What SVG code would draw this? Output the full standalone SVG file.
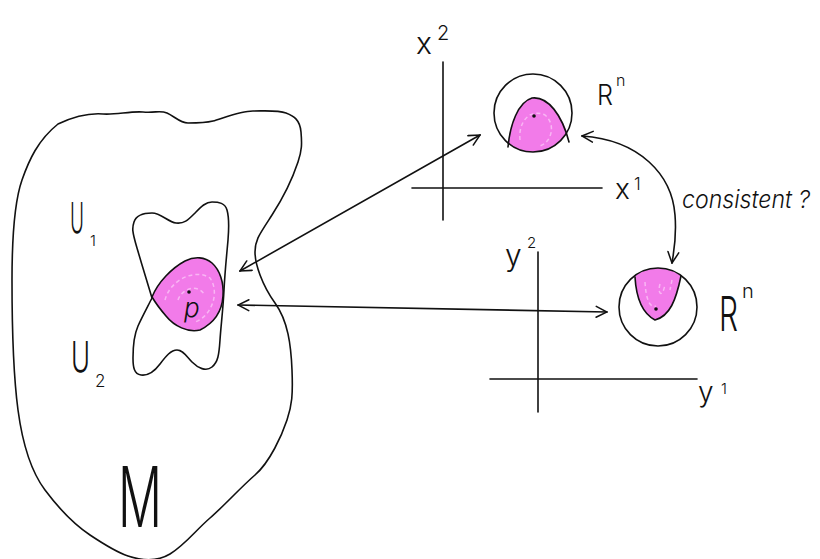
<svg xmlns="http://www.w3.org/2000/svg" width="820" height="559" viewBox="0 0 820 559">
<style>
.ln{fill:none;stroke:#111;stroke-width:1.6;stroke-linecap:round;stroke-linejoin:round}
.pk{fill:#f27be9}
.sw{fill:none;stroke:#f9b6f4;stroke-width:1.5;stroke-dasharray:4 3}
.t{font-family:"Inter","Lato","Open Sans","Liberation Sans",sans-serif;font-weight:300;fill:#111}
.ti{font-family:"Inter","Open Sans","Liberation Sans",sans-serif;font-style:italic;font-weight:300;fill:#111}
</style>
<defs>
<marker id="ah" viewBox="0 0 12 12" refX="11" refY="6" markerWidth="13" markerHeight="13" markerUnits="userSpaceOnUse" orient="auto-start-reverse">
<path d="M1,1 L11,6 L1,11" fill="none" stroke="#111" stroke-width="1.4" stroke-linecap="round"/>
</marker>
<clipPath id="c1"><circle cx="533" cy="113" r="39"/></clipPath>
<clipPath id="c2"><circle cx="658" cy="307" r="39"/></clipPath>
</defs>
<rect width="820" height="559" fill="#fff"/>

<g id="manifold-M">
<path class="ln" d="M58,124 C75,116 90,113 103,114 S130,111 143,112 S160,110 167,113 S180,123 188,123 S205,123 213,121 S240,111 253,111 S278,110 286,113 S300,120 301,132 S302,150 298,162 S285,195 272,215 S255,240 255,252 S262,285 275,303 S291,345 292,370 S292,405 287,420 S270,462 255,475 S225,505 210,518 S185,545 170,554 S140,560 128,556 S105,545 90,535 S60,510 45,490 S22,440 18,410 S12,330 12,280 S15,200 22,180 S38,140 58,124 Z"/>
<text class="t" x="118" y="527" font-size="84" textLength="44" lengthAdjust="spacingAndGlyphs">M</text>
</g>

<g id="charts-U1-U2">
<path class="ln" d="M152,298 C148,285 142,265 137,248 S132,228 134,222 S143,213 152,213 S168,222 176,223 S188,220 194,214 S205,202 212,202 S225,203 227,210 S229,228 228,240 S225,270 224,290 S221,325 220,340 S218,362 212,367 S198,368 192,362 S183,350 177,350 S166,356 160,364 S148,376 141,375 S133,367 133,358 S134,335 138,326 S148,306 152,298 Z"/>
<text class="t" x="70" y="233" font-size="42" textLength="14" lengthAdjust="spacingAndGlyphs">U</text>
<text class="t" x="90" y="246" font-size="15">1</text>
<text class="t" x="71" y="372" font-size="42" textLength="19" lengthAdjust="spacingAndGlyphs">U</text>
<text class="t" x="95" y="387" font-size="17">2</text>
</g>

<g id="point-p">
<path class="pk" d="M152,297 C158,282 172,268 185,261 C195,256 205,257 212,263 C220,270 224,283 223,296 C222,312 214,323 200,330 C188,333 174,326 166,316 C160,309 155,302 152,297 Z"/>
<path class="sw" d="M165,300 C170,280 195,268 210,278 C220,292 212,316 195,322 M178,300 C182,288 198,284 204,294"/>
<path class="ln" stroke-width="1.4" d="M152,297 C158,282 172,268 185,261 C195,256 205,257 212,263 C220,270 224,283 223,296 C222,312 214,323 200,330 C188,333 174,326 166,316 C160,309 155,302 152,297 Z"/>
<circle cx="189" cy="292" r="1.8" fill="#111"/>
<text class="ti" x="184" y="317" font-size="26">p</text>
</g>

<g id="axes-x">
<line class="ln" x1="443" y1="62" x2="443" y2="220"/>
<line class="ln" x1="412" y1="188" x2="602" y2="188"/>
<text class="t" x="416" y="54" font-size="30">x</text>
<text class="t" x="437" y="40" font-size="20">2</text>
<text class="t" x="615" y="199" font-size="28">x</text>
<text class="t" x="634" y="190" font-size="17">1</text>
</g>

<g id="Rn-top">
<g clip-path="url(#c1)">
<path class="pk" d="M508,146 C510,125 518,102 532,98 C548,96 562,115 570,140 L575,160 L495,160 Z"/>
<path class="sw" d="M520,140 C518,122 530,108 545,115 C556,124 552,142 540,146"/>
</g>
<path class="ln" stroke-width="1.4" d="M508,147 C510,125 518,102 532,98 C548,96 562,115 569,142"/>
<circle class="ln" cx="533" cy="113" r="39"/>
<circle cx="534" cy="116" r="1.8" fill="#111"/>
<text class="t" x="597" y="105" font-size="28" textLength="16" lengthAdjust="spacingAndGlyphs">R</text>
<text class="t" x="616" y="86" font-size="16">n</text>
</g>

<g id="axes-y">
<line class="ln" x1="538" y1="252" x2="538" y2="412"/>
<line class="ln" x1="490" y1="379" x2="697" y2="379"/>
<text class="t" x="505" y="266" font-size="30">y</text>
<text class="t" x="527" y="248" font-size="15">2</text>
<text class="t" x="698" y="402" font-size="28">y</text>
<text class="t" x="721" y="394" font-size="15">1</text>
</g>

<g id="Rn-bottom">
<g clip-path="url(#c2)">
<path class="pk" d="M635,277 C636,295 640,312 655,320 C670,316 676,300 681,276 L690,250 L620,250 Z"/>
<path class="sw" d="M645,282 C646,300 650,308 656,306 M660,284 C657,295 663,298 665,284 M672,280 L670,290"/>
</g>
<path class="ln" stroke-width="1.4" d="M635,277 C636,295 640,312 655,320 C670,316 676,300 681,276"/>
<circle class="ln" cx="658" cy="307" r="39"/>
<circle cx="656" cy="309" r="1.8" fill="#111"/>
<text class="t" x="719" y="331" font-size="48" textLength="19" lengthAdjust="spacingAndGlyphs">R</text>
<text class="t" x="742" y="298" font-size="20">n</text>
</g>

<g id="connectors">
<line class="ln" x1="240" y1="271" x2="480" y2="135" marker-start="url(#ah)" marker-end="url(#ah)"/>
<line class="ln" x1="238" y1="305" x2="607" y2="312" marker-start="url(#ah)" marker-end="url(#ah)"/>
<path class="ln" d="M582,136 C640,140 672,175 675,215 C677,240 673,255 672,263" marker-start="url(#ah)" marker-end="url(#ah)"/>
<text class="ti" x="682" y="208" font-size="24" textLength="128" lengthAdjust="spacingAndGlyphs">consistent ?</text>
</g>
</svg>
